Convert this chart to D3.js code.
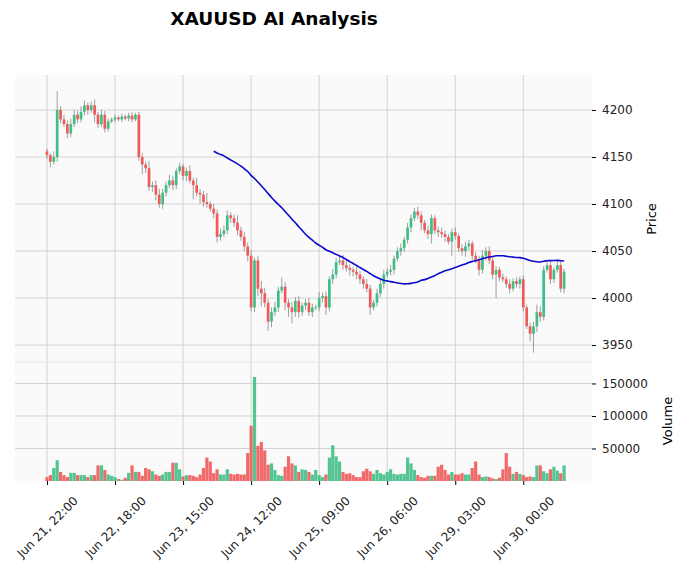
<!DOCTYPE html>
<html><head><meta charset="utf-8">
<script src="https://cdn.jsdelivr.net/npm/d3@7"></script>
<style>body{margin:0;background:#fff;font-family:"DejaVu Sans",sans-serif}</style>
</head><body><svg id="c" width="685" height="574"></svg>
<script>
// hourly closes, open = previous close
var closes = [4152,4145,4150,4200,4190,4185,4175,4185,4195,4190,4198,4205,4200,
  4205,4195,4185,4195,4180,4188,4190,4192,4190,4193,4191,4194,4190,4195,
  4150,4142,4138,4118,4120,4110,4100,4112,4120,4125,4120,4135,4140,4130,
  4135,4125,4120,4112,4110,4102,4100,4095,4090,4065,4068,4072,4088,4085,4080,
  4072,4065,4055,4045,3990,4040,4010,4005,3995,3975,3985,3990,4008,4012,3995,
  3990,3985,3997,3985,3992,3995,3985,3990,3990,4000,4002,3990,4020,4025,4038,
  4040,4035,4032,4030,4028,4025,4020,4015,4010,3990,3995,4005,4015,4025,4028,
  4030,4042,4050,4053,4062,4075,4085,4092,4088,4080,4072,4068,4085,4072,4070,
  4068,4065,4060,4070,4066,4053,4050,4055,4058,4045,4040,4030,4045,4050,4040,
  4025,4030,4022,4020,4015,4010,4018,4015,4020,3990,3970,3962,3970,3985,3980,
  4030,4035,4020,4030,4035,4010,4028];
var firstOpen = 4156;
// wick extents beyond the body
var upWick = [3,2,6,20,4,5,4,6,5,4,6,5,3,4,6,3,5,4,3,2,3,2,3,2,3,4,2,
  3,4,3,8,4,5,6,4,4,6,5,3,4,3,4,6,3,8,4,4,10,3,5,4,6,5,5,3,4,
  8,4,5,4,6,3,5,8,6,4,5,6,4,10,5,4,6,4,5,3,4,5,4,3,6,4,5,3,6,5,
  4,6,5,4,3,5,4,3,5,4,3,5,6,5,4,5,3,4,5,3,5,4,4,5,4,3,5,4,3,4,
  5,4,3,4,5,3,4,5,4,3,4,5,6,4,5,3,4,3,4,3,5,3,4,3,4,3,4,5,8,6,
  4,5,4,3,6,4,3];
var downWick = [4,6,3,5,4,3,5,4,3,4,3,4,5,3,8,4,3,4,3,2,3,2,3,2,3,3,2,
  4,10,5,4,5,6,4,5,4,3,5,4,3,5,6,3,15,4,10,5,4,3,5,6,4,3,4,5,4,
  5,4,5,6,4,5,8,14,5,10,6,4,5,3,8,10,12,5,6,4,5,4,5,3,4,5,8,4,5,4,
  3,5,4,6,5,5,5,5,4,8,3,4,4,5,3,4,5,3,5,4,4,5,3,4,8,3,5,10,4,5,
  4,5,3,15,4,4,5,6,4,5,3,6,4,5,4,5,25,4,3,4,5,3,4,5,4,3,8,20,6,5,
  4,3,5,4,3,4,5];
var volumes = [6000,9000,20000,32000,14000,9000,6000,12500,12500,9000,9000,9000,6000,9000,9000,
  24000,24000,17000,10000,8000,6000,3000,2000,5000,12500,24000,14000,14000,8000,20000,
  18000,15000,10000,8000,10000,14000,14000,28000,28000,18000,7000,9000,9000,8000,6000,
  10000,20000,36000,30000,12000,18000,10000,10000,18000,11000,10000,11000,10000,10000,43000,85000,
  160000,54000,60000,47000,25000,27000,17000,9000,8000,22000,38000,27000,24000,14000,
  18000,17000,14000,10000,17000,9000,6000,10000,36000,55000,38000,30000,14000,11000,12000,
  9000,6000,6000,15000,19000,15000,11000,17000,12000,10000,14000,18000,11000,10000,11000,
  11000,36000,27000,17000,9000,6000,5000,8000,8000,8000,22000,25000,17000,10000,14000,
  10000,10000,12000,10000,10000,20000,30000,10000,6000,7000,6000,4000,3000,5000,18000,
  43000,22000,11000,14000,11000,9000,6000,7000,6000,24000,24000,15000,12000,18000,22000,
  16000,12000,24000];
var tickIdx = [0,20,40,60,80,100,120,140];
var tickLabels = ["Jun 21, 22:00","Jun 22, 18:00","Jun 23, 15:00","Jun 24, 12:00",
  "Jun 25, 09:00","Jun 26, 06:00","Jun 29, 03:00","Jun 30, 00:00"];
var priceTicks = [3950,4000,4050,4100,4150,4200];
var volTicks = [50000,100000,150000];
var maPeriod = 50;

var n = closes.length;
var data = closes.map(function(c, i) {
  var o = i ? closes[i-1] : firstOpen;
  return {i: i, o: o, c: c, h: Math.max(o, c) + upWick[i], l: Math.min(o, c) - downWick[i], v: volumes[i]};
});
var ma = [];
for (var i = maPeriod - 1; i < n; i++) {
  ma.push({i: i, v: d3.mean(closes.slice(i - maPeriod + 1, i + 1))});
}

var svg = d3.select("#c");
var L = 15, R = 592, pTop = 75, pBot = 362, vBot = 481;
var x = d3.scaleLinear().domain([-9.4, 160.2]).range([L, R]);
var y = d3.scaleLinear().domain([3932, 4237.2]).range([pBot, pTop]);
var yv = d3.scaleLinear().domain([0, 183000]).range([vBot, pBot]);
var up = "#3fbf86", dn = "#ef5a5a";

svg.append("text").attr("x", 274).attr("y", 25).attr("text-anchor", "middle")
  .attr("font-size", 18.5).attr("font-weight", "bold").text("XAUUSD AI Analysis");

[[pTop, pBot], [pBot, vBot]].forEach(function(p) {
  svg.append("rect").attr("x", L).attr("y", p[0]).attr("width", R - L).attr("height", p[1] - p[0])
    .attr("fill", "#fafafa");
});
var grid = svg.append("g").attr("stroke", "#d3d3d3").attr("stroke-width", 1);
tickIdx.forEach(function(t) {
  grid.append("line").attr("x1", x(t)).attr("x2", x(t)).attr("y1", pTop).attr("y2", vBot);
});
priceTicks.forEach(function(t) {
  grid.append("line").attr("x1", L).attr("x2", R).attr("y1", y(t)).attr("y2", y(t));
});
volTicks.forEach(function(t) {
  grid.append("line").attr("x1", L).attr("x2", R).attr("y1", yv(t)).attr("y2", yv(t));
});
grid.append("line").attr("x1", L).attr("x2", R).attr("y1", pBot).attr("y2", pBot).attr("stroke", "#e6e6e6");

var cw = 2.7;
var g = svg.append("g");
g.selectAll(".wick").data(data).join("line")
  .attr("x1", function(d) { return x(d.i); }).attr("x2", function(d) { return x(d.i); })
  .attr("y1", function(d) { return y(d.h); }).attr("y2", function(d) { return y(d.l); })
  .attr("stroke", "#777").attr("stroke-width", 0.7);
g.selectAll(".body").data(data).join("rect")
  .attr("x", function(d) { return x(d.i) - cw / 2; }).attr("width", cw)
  .attr("y", function(d) { return y(Math.max(d.o, d.c)); })
  .attr("height", function(d) { return Math.max(0.8, Math.abs(y(d.o) - y(d.c))); })
  .attr("fill", function(d) { return d.c >= d.o ? up : dn; });

svg.append("path").datum(ma).attr("fill", "none").attr("stroke", "#0a0acd").attr("stroke-width", 1.6)
  .attr("d", d3.line().curve(d3.curveMonotoneX).x(function(d) { return x(d.i); }).y(function(d) { return y(d.v); }));

svg.append("g").selectAll("rect").data(data).join("rect")
  .attr("x", function(d) { return x(d.i) - 1.6; }).attr("width", 3.2)
  .attr("y", function(d) { return yv(d.v); }).attr("height", function(d) { return vBot - yv(d.v); })
  .attr("fill", function(d) { return d.c >= d.o ? up : dn; }).attr("fill-opacity", 0.9);

var ap = svg.append("g").attr("transform", "translate(" + R + ",0)")
  .call(d3.axisRight(y).tickValues(priceTicks).tickSize(4).tickPadding(6).tickFormat(d3.format("d")));
var av = svg.append("g").attr("transform", "translate(" + R + ",0)")
  .call(d3.axisRight(yv).tickValues(volTicks).tickSize(4).tickPadding(6).tickFormat(d3.format("d")));
var ax = svg.append("g").attr("transform", "translate(0," + vBot + ")")
  .call(d3.axisBottom(x).tickValues(tickIdx).tickSize(4).tickFormat(function(d, k) { return tickLabels[k]; }));
[ap, av, ax].forEach(function(a) {
  a.select(".domain").remove();
  a.selectAll("text").attr("font-size", 12).attr("fill", "#222").attr("font-family", "DejaVu Sans");
});
ax.selectAll("text").attr("text-anchor", "middle").attr("y", 0).attr("dy", "0.35em")
  .attr("transform", "translate(0,46) rotate(-45)");

svg.append("text").attr("transform", "translate(656,219) rotate(-90)").attr("text-anchor", "middle")
  .attr("font-size", 13).text("Price");
svg.append("text").attr("transform", "translate(672,421) rotate(-90)").attr("text-anchor", "middle")
  .attr("font-size", 13).text("Volume");
</script></body></html>
